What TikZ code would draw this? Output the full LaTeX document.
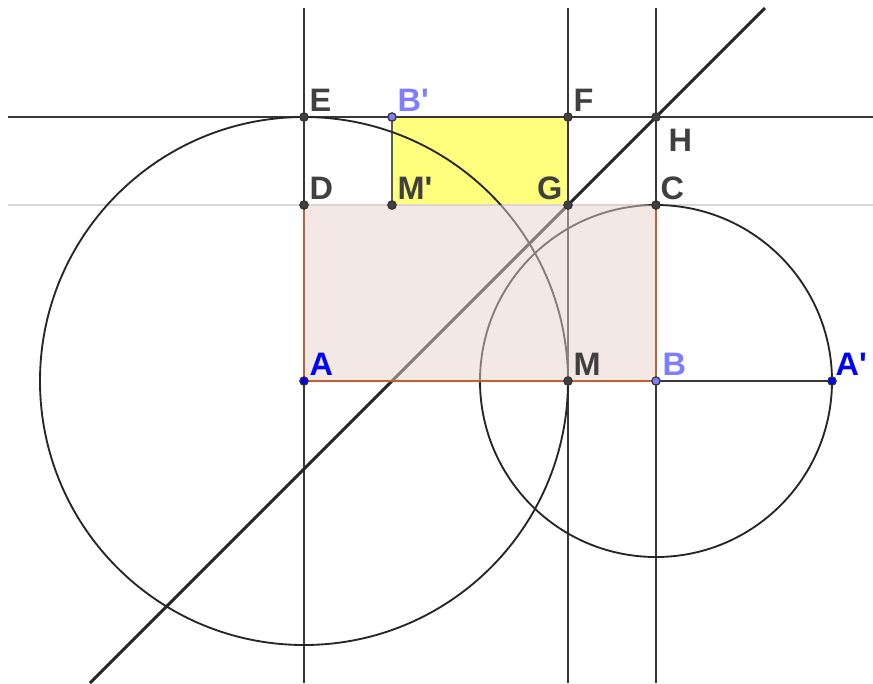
\documentclass[tikz,border=0pt]{standalone}
\usepackage{fontspec}
\newfontfamily\lblfont{Liberation Sans}
\definecolor{ptblue}{RGB}{0,0,255}
\definecolor{ptlav}{RGB}{125,125,255}
\definecolor{lblgray}{RGB}{64,64,64}
\definecolor{rectfill}{RGB}{233,209,201}
\definecolor{rectedge}{RGB}{190,95,55}
\definecolor{sqfill}{RGB}{255,255,125}
\definecolor{guide}{RGB}{215,215,215}

\begin{document}
\begin{tikzpicture}[
    x=1cm, y=1cm,
    line/.style={draw=black!78, line width=0.6pt},
    thinline/.style={draw=black!65, line width=0.45pt},
    diag/.style={draw=black!85, line width=0.95pt},
    circ/.style={draw=black!85, line width=0.6pt},
    gpt/.style={circle, draw=black!80, line width=0.4pt, fill=#1, inner sep=0pt, minimum size=0.95mm},
    gpt/.default=lblgray,
    lbl/.style={inner sep=0pt, font=\lblfont\bfseries\fontsize{10.5}{12}\selectfont, text=#1},
    lbl/.default=lblgray
]
\useasboundingbox (-3.4545,-3.4318) rectangle (6.4659,4.3295);
% points
\coordinate (A) at (0,0);
\coordinate (M) at (3,0);
\coordinate (B) at (4,0);
\coordinate (A2) at (6,0);
\coordinate (D) at (0,2);
\coordinate (M2) at (1,2);
\coordinate (G) at (3,2);
\coordinate (C) at (4,2);
\coordinate (E) at (0,3);
\coordinate (B2) at (1,3);
\coordinate (F) at (3,3);
\coordinate (H) at (4,3);
% ends of the lines
\coordinate (topA) at (0,4.2386);
\coordinate (botA) at (0,-3.4318);
\coordinate (topM) at (3,4.2386);
\coordinate (botM) at (3,-3.4318);
\coordinate (topB) at (4,4.2386);
\coordinate (botB) at (4,-3.4318);
\coordinate (leftE) at (-3.3636,3);
\coordinate (rightE) at (6.4659,3);
\coordinate (leftD) at (-3.3636,2);
\coordinate (rightD) at (6.4659,2);
\coordinate (topG) at (5.2386,4.2386);
\coordinate (botG) at (-2.4318,-3.4318);
% square
\fill[sqfill] (M2) rectangle (F);
% lines
\draw[guide, line width=0.6pt] (leftD) -- (rightD);
\draw[line] (botA) -- (topA);
\draw[line] (botM) -- (topM);
\draw[line] (botB) -- (topB);
\draw[line] (leftE) -- (rightE);
\draw[diag] (botG) -- (topG);
\draw[thinline] (M2) -- (B2);
\draw[line] (B) -- (A2);
\draw[circ] (A) circle[radius=3];
\draw[circ] (B) circle[radius=2];
% rectangle
\fill[rectfill, fill opacity=0.5] (A) rectangle (C);
\draw[rectedge, line width=0.6pt] (D) -- (A) -- (B) -- (C);
% dots
\node[gpt] (pE) at (E) {};
\node[gpt] (pF) at (F) {};
\node[gpt] (pH) at (H) {};
\node[gpt] (pD) at (D) {};
\node[gpt] (pM2) at (M2) {};
\node[gpt] (pG) at (G) {};
\node[gpt] (pC) at (C) {};
\node[gpt] (pM) at (M) {};
\node[gpt=ptlav] (pB2) at (B2) {};
\node[gpt=ptlav] (pB) at (B) {};
\node[gpt=ptblue] (pA) at (A) {};
\node[gpt=ptblue] (pA2) at (A2) {};
% labels
\node[lbl, anchor=base west] (lE) at ([shift={(0.057,0.068)}]E) {E};
\node[lbl=ptlav, anchor=base west] (lB2) at ([shift={(0.057,0.068)}]B2) {B'};
\node[lbl, anchor=base west] (lF) at ([shift={(0.057,0.068)}]F) {F};
\node[lbl, anchor=north west] (lH) at ([shift={(0.136,-0.136)}]H) {H};
\node[lbl, anchor=base west] (lD) at ([shift={(0.057,0.068)}]D) {D};
\node[lbl, anchor=base west] (lM2) at ([shift={(0.057,0.068)}]M2) {M'};
\node[lbl, anchor=base east] (lG) at ([shift={(-0.057,0.068)}]G) {G};
\node[lbl, anchor=base west] (lC) at ([shift={(0.045,0.068)}]C) {C};
\node[lbl=ptblue, anchor=base west] (lA) at ([shift={(0.057,0.068)}]A) {A};
\node[lbl, anchor=base west] (lM) at ([shift={(0.057,0.068)}]M) {M};
\node[lbl=ptlav, anchor=base west] (lB) at ([shift={(0.068,0.068)}]B) {B};
\node[lbl=ptblue, anchor=base west] (lA2) at ([shift={(0.034,0.068)}]A2) {A'};
\end{tikzpicture}
\end{document}
